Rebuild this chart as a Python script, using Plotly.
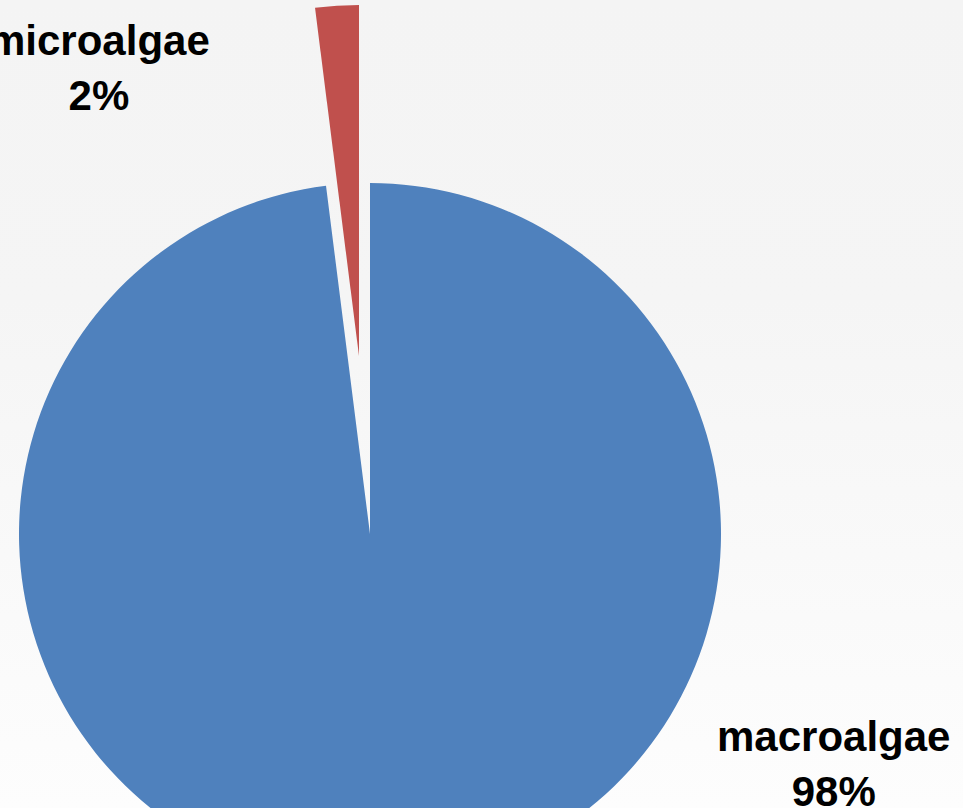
import plotly.graph_objects as go

# ---- data ----
labels = ["macroalgae", "microalgae"]
values = [98, 2]
colors = ["#4F81BD", "#C0504D"]

W, H = 963, 900  # figure taller than the window; bottom is cropped like the reference

total = sum(values)
pcts = [round(v / total * 100) for v in values]

def dom(cx, cy, r):
    return dict(x=[(cx - r) / W, (cx + r) / W],
                y=[1 - (cy + r) / H, 1 - (cy - r) / H])

R = 351
fig = go.Figure()
# main pie (macroalgae visible)
fig.add_trace(go.Pie(
    labels=labels, values=values, sort=False, direction="clockwise", rotation=0,
    marker=dict(colors=[colors[0], "rgba(0,0,0,0)"], line=dict(width=0)),
    textinfo="none", hoverinfo="label+percent", showlegend=False,
    domain=dom(370, 534, R),
))
# exploded slice (microalgae), shifted out along its bisector
fig.add_trace(go.Pie(
    labels=labels, values=values, sort=False, direction="clockwise", rotation=0,
    marker=dict(colors=["rgba(0,0,0,0)", colors[1]], line=dict(width=0)),
    textinfo="none", hoverinfo="label+percent", showlegend=False,
    domain=dom(359, 356, R),
))

font = dict(family="Liberation Sans, Arial, sans-serif", size=42, color="black")
label_pos = {"macroalgae": (833, 764), "microalgae": (99, 68)}
for lab, p in zip(labels, pcts):
    px, py = label_pos[lab]
    fig.add_annotation(
        x=px / W, y=1 - py / H, xref="paper", yref="paper",
        text=f"<b>{lab}</b><br><b>{p}%</b>", showarrow=False,
        xanchor="center", yanchor="middle", align="center", font=font,
    )

fig.update_layout(
    width=W, height=H, margin=dict(l=0, r=0, t=0, b=0),
    paper_bgcolor="rgba(0,0,0,0)", plot_bgcolor="rgba(0,0,0,0)",
    showlegend=False,
)

post = ("document.body.style.margin='0';"
        "document.body.style.overflow='hidden';"
        "document.documentElement.style.overflow='hidden';"
        "document.documentElement.style.background="
        "'linear-gradient(to bottom, #f4f4f4 0px, #f5f5f5 300px, #fdfdfd 808px)';")
fig.write_html("out.html", post_script=post, config={"displayModeBar": False})
